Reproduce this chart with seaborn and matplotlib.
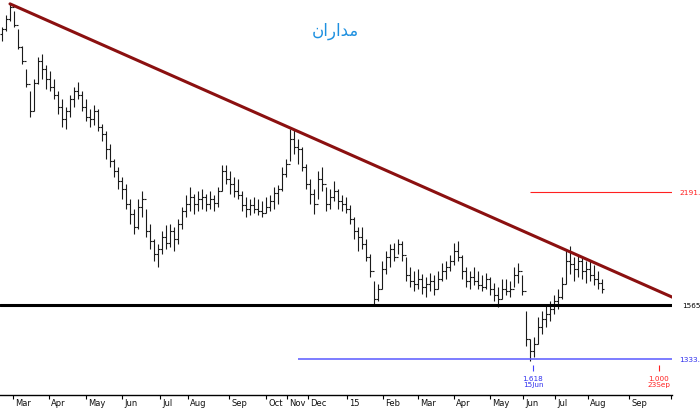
import matplotlib
matplotlib.use("Agg")
import matplotlib.pyplot as plt
import matplotlib.transforms as mtransforms
import seaborn as sns

# daily bars (index = trading bar), prices
highs = [3580, 3710, 3833, 3755, 3558, 3383, 3159, 2958, 3066, 3274,
         3303, 3197, 3140, 3066, 2958, 2889, 2821, 2923, 2994, 3039,
         2958, 2889, 2804, 2838, 2804, 2682, 2626, 2527, 2417, 2360,
         2290, 2243, 2145, 2083, 2145, 2197, 2083, 1992, 1905, 1876,
         1950, 1986, 1992, 1974, 2021, 2095, 2171, 2223, 2178, 2197,
         2210, 2178, 2197, 2171, 2223, 2374, 2374, 2332, 2290, 2277,
         2197, 2158, 2145, 2158, 2145, 2133, 2158, 2171, 2223, 2236,
         2360, 2417, 2642, 2642, 2565, 2505, 2381, 2277, 2210, 2332,
         2360, 2223, 2210, 2263, 2210, 2171, 2158, 2108, 2033, 1974,
         1974, 1905, 1822, 1681, 1666, 1784, 1838, 1876, 1882, 1905,
         1893, 1806, 1752, 1732, 1742, 1716, 1701, 1721, 1711, 1732,
         1774, 1784, 1817, 1882, 1893, 1817, 1752, 1732, 1752, 1732,
         1711, 1721, 1701, 1671, 1651, 1691, 1691, 1681, 1752, 1774,
         1711, 1538, 1414, 1423, 1510, 1538, 1565, 1584, 1612, 1641,
         1701, 1849, 1865, 1806, 1817, 1806, 1784, 1784, 1763, 1732,
         1691]
lows = [3433, 3537, 3644, 3580, 3353, 3206, 2994, 2738, 2788, 3021,
        3066, 2976, 2958, 2889, 2763, 2658, 2642, 2738, 2821, 2889,
        2788, 2706, 2658, 2674, 2626, 2550, 2417, 2360, 2290, 2210,
        2145, 2083, 1992, 1933, 1962, 2033, 1916, 1849, 1784, 1752,
        1822, 1849, 1860, 1838, 1876, 1962, 2033, 2070, 2052, 2070,
        2083, 2070, 2083, 2070, 2095, 2197, 2243, 2178, 2158, 2145,
        2070, 2033, 2046, 2058, 2046, 2033, 2058, 2070, 2083, 2114,
        2197, 2290, 2403, 2453, 2381, 2332, 2210, 2114, 2052, 2145,
        2197, 2070, 2083, 2133, 2083, 2070, 2058, 1992, 1905, 1838,
        1849, 1784, 1701, 1570, 1584, 1641, 1716, 1752, 1784, 1822,
        1784, 1681, 1651, 1632, 1641, 1617, 1603, 1632, 1612, 1641,
        1681, 1691, 1732, 1763, 1784, 1691, 1651, 1641, 1661, 1641,
        1632, 1641, 1612, 1584, 1556, 1593, 1612, 1603, 1651, 1671,
        1612, 1385, 1325, 1341, 1394, 1436, 1466, 1492, 1524, 1547,
        1593, 1666, 1716, 1681, 1701, 1691, 1671, 1681, 1661, 1641,
        1622]
closes = [3558, 3666, 3800, 3601, 3373, 3235, 3021, 2788, 3030, 3235,
          3159, 3066, 2994, 2923, 2821, 2722, 2788, 2889, 2958, 2923,
          2821, 2738, 2722, 2788, 2658, 2603, 2490, 2403, 2332, 2263,
          2210, 2114, 2052, 1974, 2095, 2145, 1950, 1893, 1822, 1849,
          1916, 1882, 1950, 1905, 1992, 2070, 2114, 2158, 2114, 2145,
          2158, 2114, 2145, 2120, 2197, 2332, 2277, 2243, 2197, 2171,
          2108, 2083, 2108, 2083, 2070, 2058, 2095, 2133, 2184, 2210,
          2311, 2381, 2565, 2505, 2490, 2360, 2243, 2178, 2114, 2277,
          2243, 2114, 2158, 2197, 2133, 2114, 2083, 2021, 1950, 1916,
          1876, 1806, 1732, 1593, 1641, 1742, 1806, 1849, 1806, 1876,
          1817, 1711, 1681, 1666, 1691, 1651, 1666, 1681, 1641, 1691,
          1732, 1752, 1784, 1838, 1806, 1732, 1681, 1701, 1681, 1661,
          1651, 1691, 1641, 1612, 1593, 1641, 1632, 1641, 1711, 1732,
          1632, 1414, 1365, 1394, 1466, 1501, 1524, 1547, 1584, 1603,
          1666, 1784, 1768, 1742, 1784, 1732, 1742, 1711, 1691, 1671,
          1641]
first_open = 3500

# drawn objects
trend_x = [2, 168]
trend_y = [3834, 1598]
support_level = 1565
fib_low_level = 1333
fib_high_level = 2191
fib_low_start = 74
fib_high_start = 132

month_pos = [2.75, 11.75, 21, 30, 39.5, 46.5, 56.75, 66, 71.25, 76.5,
             86.25, 95.25, 104, 113, 122, 130.25, 138.25, 146.5, 156.75, 167.25]
month_labels = ["Mar", "Apr", "May", "Jun", "Jul", "Aug", "Sep", "Oct", "Nov", "Dec",
                "15", "Feb", "Mar", "Apr", "May", "Jun", "Jul", "Aug", "Sep", "Oct"]

# title "مداران" written in visual order with joined forms (matplotlib has no Arabic shaping)
title_text = "\u0646\u0627\u0631\u0627\uFEAA\uFEE3"

sns.set_theme(style="white")
plt.rcParams["font.family"] = ["DejaVu Sans"]

fig = plt.figure(figsize=(7, 4.1), dpi=100)
ax = fig.add_axes([0, 14 / 410, 672 / 700, 396 / 410])
ax.set_yscale("log")
ax.set_xlim(-0.5, 167.5)
ax.set_ylim(1197, 3890)

# OHLC bars
idx = list(range(len(closes)))
opens = [first_open] + closes[:-1]
ax.vlines(idx, lows, highs, color="#1a1a1a", lw=0.8)
ax.hlines(opens, [i - 0.45 for i in idx], idx, color="#1a1a1a", lw=0.8)
ax.hlines(closes, idx, [i + 0.45 for i in idx], color="#1a1a1a", lw=0.8)

# levels
ax.axhline(support_level, color="black", lw=2.2)
ax.hlines(fib_low_level, fib_low_start, 167.5, color="#6666ff", lw=1.2)
ax.hlines(fib_high_level, fib_high_start, 167.5, color="#ff2020", lw=0.8)

# trendline
sns.lineplot(x=trend_x, y=trend_y, ax=ax, color="#8b1010", lw=2.2)

# fib markers
ax.vlines(132.75, 1286, 1309, color="#4040ff", lw=0.8)
ax.vlines(164.25, 1286, 1309, color="#ff2020", lw=0.8)
ax.text(132.75, 1270, "1.618\n15Jun", color="#3030ee", fontsize=5.2,
        ha="center", va="top", linespacing=0.9)
ax.text(164.25, 1270, "1.000\n23Sep", color="#ff2020", fontsize=5.2,
        ha="center", va="top", linespacing=0.9)

# right-hand price labels
rt = mtransforms.blended_transform_factory(ax.transAxes, ax.transData)
ax.text(679 / 672, fib_high_level, "2191.", color="#ff2020", fontsize=5.4,
        va="center", transform=rt, clip_on=False)
ax.text(682 / 672, support_level, "1565", color="black", fontsize=5.2,
        va="center", transform=rt, clip_on=False)
ax.text(679 / 672, fib_low_level, "1333.", color="#3030ee", fontsize=5.4,
        va="center", transform=rt, clip_on=False)

# x axis
for s in ["top", "left", "right"]:
    ax.spines[s].set_visible(False)
ax.spines["bottom"].set_color("black")
ax.spines["bottom"].set_linewidth(1.0)
ax.set_yticks([])
ax.set_yticks([], minor=True)
ax.set_xticks(month_pos)
ax.set_xticklabels([])
ax.tick_params(axis="x", direction="out", length=3, width=0.8, color="black", bottom=True)

clip = mtransforms.TransformedBbox(mtransforms.Bbox([[0, 0], [672 / 700, 1]]), fig.transFigure)
lt = mtransforms.blended_transform_factory(ax.transData, ax.transAxes)
for pos, lab in zip(month_pos, month_labels):
    t = ax.text(pos + 0.6, -0.008, lab, fontsize=6, ha="left", va="top",
                transform=lt, color="#111111")
    t.set_clip_on(True)
    t.set_clip_box(clip)

fig.text(335 / 700, 1 - 31 / 410, title_text, color="#1e90e0", fontsize=12,
         ha="center", va="center")

fig.savefig("out.png", dpi=100)
